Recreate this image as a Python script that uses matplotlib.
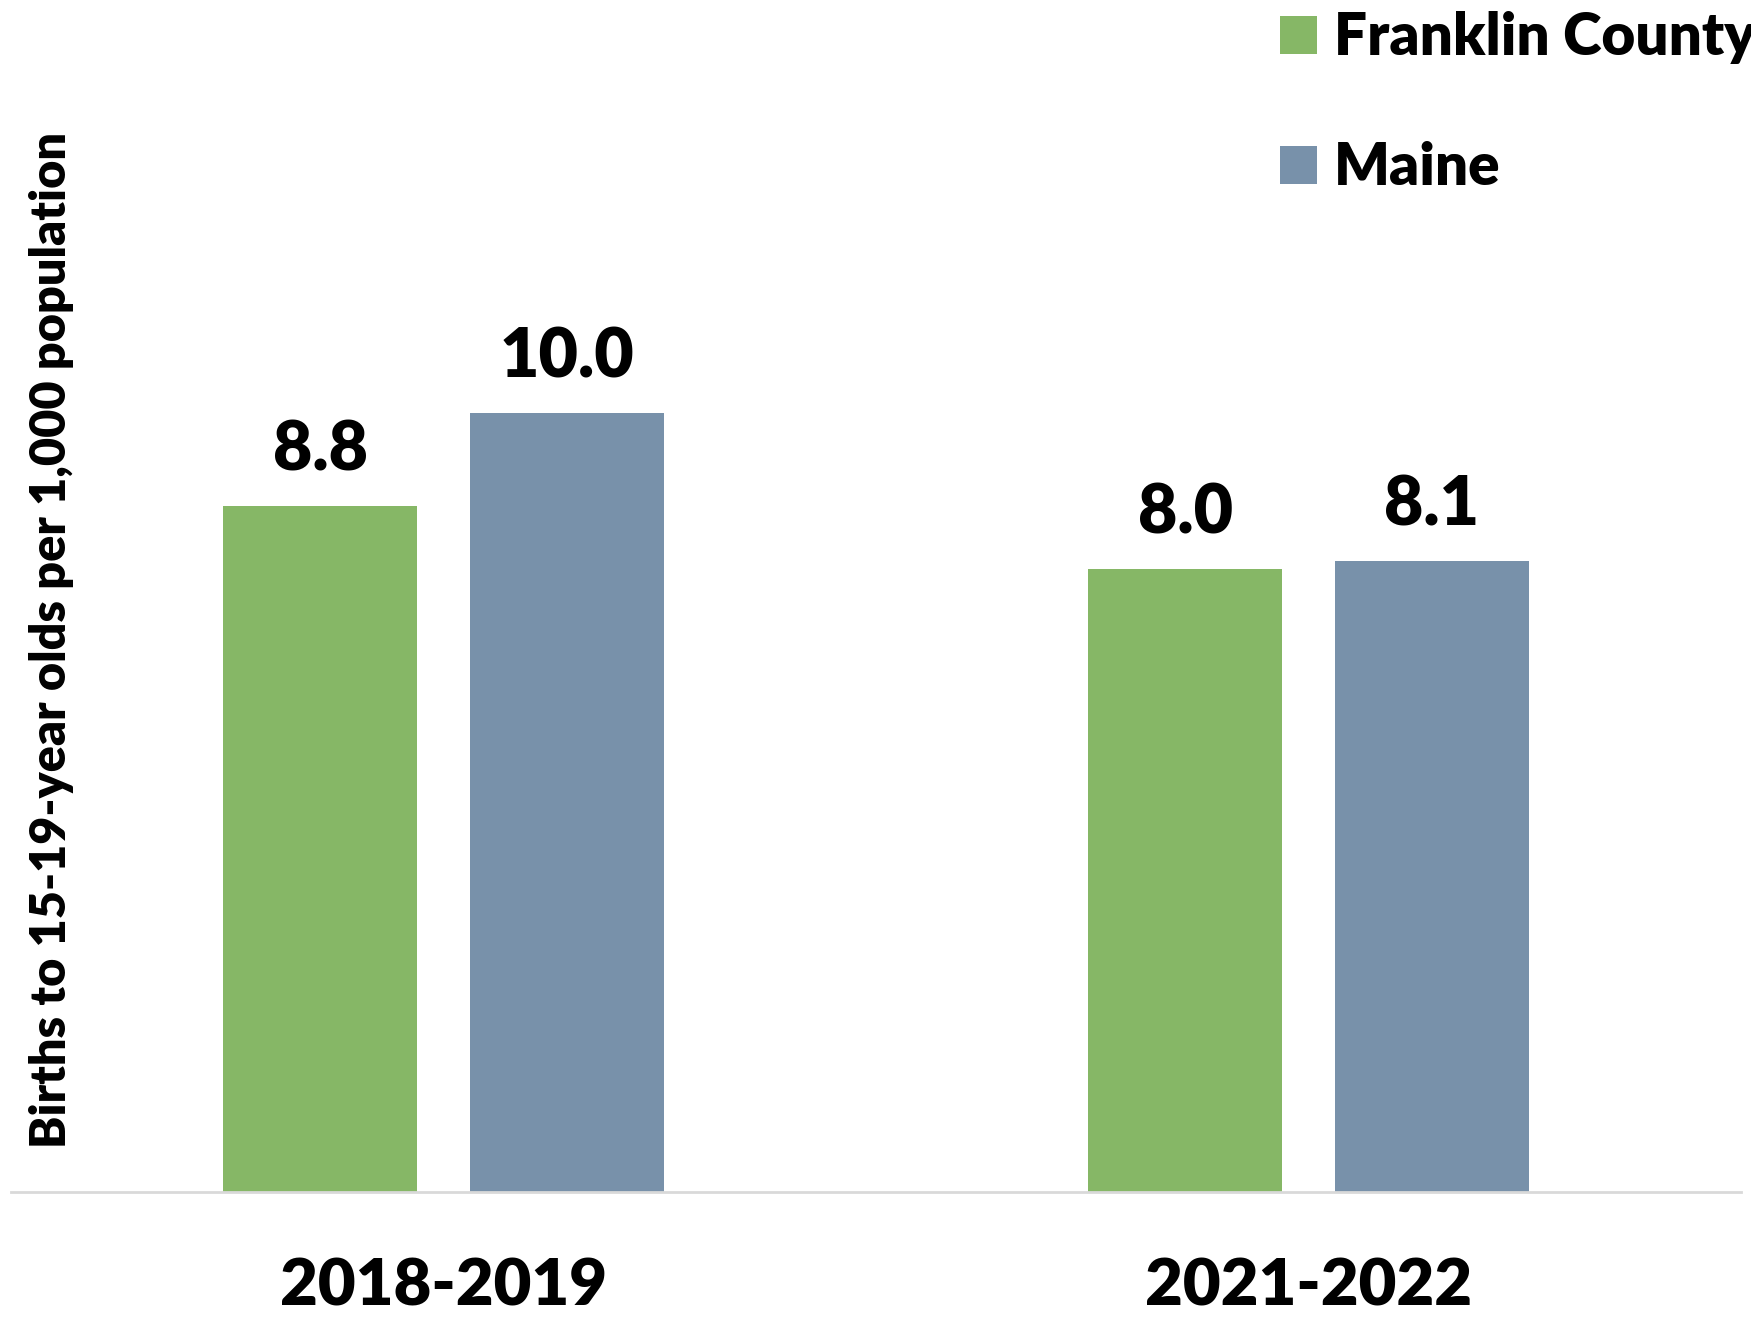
import matplotlib
matplotlib.use("Agg")
import matplotlib.pyplot as plt
import numpy as np
from matplotlib.patches import Patch

periods = ["2018-2019", "2021-2022"]
franklin = [8.8, 8.0]
maine = [10.0, 8.1]
series_names = ["Franklin County", "Maine"]
series_colors = ["#86B766", "#7891AA"]
ylabel = "Births to 15-19-year olds per 1,000 population"

plt.rcParams['font.family'] = ['Lato', 'DejaVu Sans']
plt.rcParams['font.weight'] = 'heavy'

fig = plt.figure(figsize=(17.51, 13.18), dpi=100)
W, H = 1751, 1318
ax = fig.add_axes([11 / W, 126 / H, 1730 / W, 935 / H])

x = np.arange(len(periods))
width = 0.224
offset = 0.1425
for vals, off, color, name in zip([franklin, maine], [-offset, offset], series_colors, series_names):
    bars = ax.bar(x + off, vals, width, color=color, label=name)
    for b, v in zip(bars, vals):
        ax.annotate(f"{v:.1f}", (b.get_x() + b.get_width() / 2, v),
                    xytext=(0, 17), textcoords="offset points",
                    ha="center", va="bottom", fontsize=49, fontweight="heavy")

ax.set_xlim(-0.5, 1.5)
ax.set_ylim(0, 12)
ax.set_xticks(x)
ax.set_xticklabels(periods, fontsize=47, fontweight="heavy")
ax.tick_params(axis="x", length=0, pad=47)
ax.set_yticks([])
for s in ["top", "right", "left"]:
    ax.spines[s].set_visible(False)
ax.spines["bottom"].set_color("#D9D9D9")
ax.spines["bottom"].set_linewidth(2)

fig.text(52 / W, 1 - 640 / H, ylabel, rotation=90, ha="center", va="center",
         fontsize=35, fontweight="heavy")

handles = [Patch(facecolor=c) for c in series_colors]
fig.legend(handles, series_names, loc="upper left", bbox_to_anchor=(1257 / W, 1.009),
           frameon=False, fontsize=42, handlelength=0.62, handleheight=0.62,
           handletextpad=0.3, labelspacing=1.32, borderaxespad=0.0)

fig.savefig("out.png", dpi=100)
